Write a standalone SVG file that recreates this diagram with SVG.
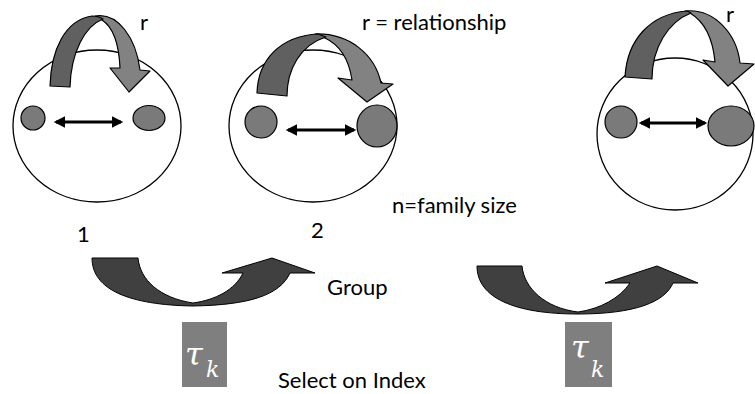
<svg xmlns="http://www.w3.org/2000/svg" width="755" height="394" viewBox="0 0 755 394">
<style>
.fam{fill:#fff;stroke:#000;stroke-width:1.3}
.mem{fill:#7a7a7a;stroke:#000;stroke-width:1.2}
.dark{fill:#606060;stroke:#000;stroke-width:1.2;stroke-linejoin:round}
.light{fill:#828282;stroke:#000;stroke-width:1.2;stroke-linejoin:round}
.ua{fill:#404040;stroke:#000;stroke-width:1;stroke-linejoin:round}
.rel{stroke:#000;stroke-width:3;fill:none;marker-start:url(#ah);marker-end:url(#ah)}
.t{font-family:Lato,"Liberation Sans",sans-serif;font-size:22px;fill:#000}
.tau{fill:#7f7f7f}
.g{font-family:"DejaVu Serif","Liberation Serif",serif;font-style:italic;fill:#fff}
</style>
<defs>
<marker id="ah" viewBox="0 0 10 10" refX="8" refY="5" markerWidth="4" markerHeight="3.8" orient="auto-start-reverse" markerUnits="strokeWidth">
<path d="M0,0 L10,5 L0,10 Z" fill="#000"/>
</marker>
</defs>

<g id="family1">
<ellipse class="fam" cx="97" cy="126" rx="84" ry="76"/>
<ellipse class="mem" cx="33" cy="118" rx="12" ry="12"/>
<ellipse class="mem" cx="149" cy="118" rx="16" ry="12.5"/>
<path class="light" d="M95,16 C118,12 136,38 140,70 L150,71 L129,92 L110,68 L120,68 C119,45 113,27 102,20 Z"/>
<path class="dark" d="M50,86 C51,50 65,20 92,16 C96,16 100,17 103,19 C85,26 71,52 70,87 Z"/>
</g>

<g id="family2">
<ellipse class="fam" cx="313" cy="126" rx="84" ry="76"/>
<ellipse class="mem" cx="261" cy="122" rx="16" ry="16"/>
<ellipse class="mem" cx="377" cy="126" rx="20" ry="21"/>
<path class="light" d="M315,34 C350,33 375,55 381,83 L393,84 L367,102 L338,78 L352,80 C349,60 340,45 325,38 Z"/>
<path class="dark" d="M257,93 C258,60 280,36 318,34 L326,37 C300,45 287,70 287,96 Z"/>
</g>

<g id="family3">
<ellipse class="fam" cx="675" cy="134" rx="78" ry="76"/>
<ellipse class="mem" cx="621" cy="122" rx="16" ry="16"/>
<ellipse class="mem" cx="731" cy="126" rx="23" ry="20"/>
<path class="light" d="M685,11 C715,8 737,35 740,63 L754,64 L728,86 L703,60 L715,62 C713,40 705,22 690,13 Z"/>
<path class="dark" d="M625,77 C627,40 650,14 687,11 L691,13 C668,22 652,48 652,79 Z"/>
</g>

<g id="connectors">
<line class="rel" x1="56" y1="122" x2="121" y2="122"/>
<line class="rel" x1="288" y1="130" x2="354" y2="130"/>
<line class="rel" x1="641" y1="123" x2="705" y2="123"/>
</g>

<g id="group-arrow1">
<path class="ua" d="M92,258 L138,258 C140,280 160,298 193,303 C215,300 235,290 243,273 L222,273 L272,258 L315,273 L290,273 C280,295 250,305 193,306 C130,305 92,290 92,258 Z"/>
</g>
<g id="group-arrow2">
<path class="ua" d="M477,266 L522,266 C524,288 545,308 578,312 C600,309 620,298 630,283 L605,283 L657,266 L698,283 L673,283 C665,302 635,314 578,314 C515,314 477,298 477,266 Z"/>
</g>

<g id="tau1">
<rect class="tau" x="182" y="322" width="45" height="65"/>
<text class="g" x="185" y="365" font-size="32">τ</text>
<text class="g" x="206" y="377" font-size="22">k</text>
</g>
<g id="tau2">
<rect class="tau" x="565" y="322" width="47" height="65"/>
<text class="g" x="571" y="358" font-size="32">τ</text>
<text class="g" x="591" y="377" font-size="22">k</text>
</g>

<g id="labels">
<text class="t" x="140" y="30">r</text>
<text class="t" x="362" y="30">r = relationship</text>
<text class="t" x="726" y="22">r</text>
<text class="t" x="392" y="213">n=family size</text>
<text class="t" x="77" y="242" font-size="19">1</text>
<text class="t" x="311" y="238" font-size="19">2</text>
<text class="t" x="327" y="295">Group</text>
<text class="t" x="278" y="388">Select on Index</text>
</g>
</svg>
